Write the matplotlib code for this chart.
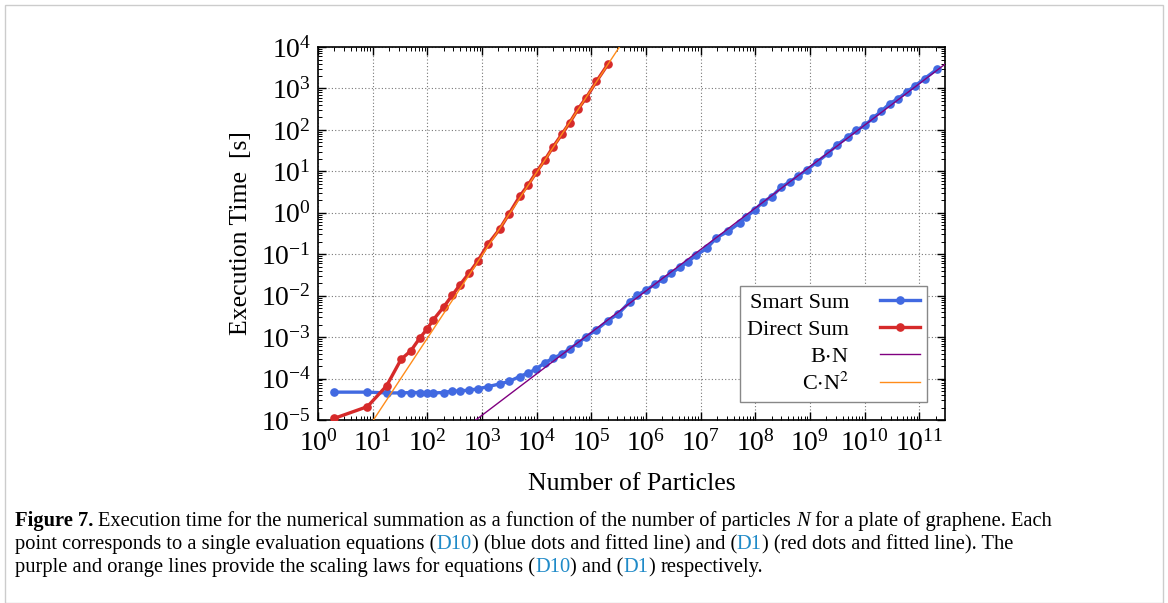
import numpy as np
import matplotlib
matplotlib.use('Agg')
import matplotlib.pyplot as plt
from matplotlib.ticker import LogLocator, NullFormatter
from matplotlib.patches import Rectangle

plt.rcParams['font.family'] = ['Liberation Serif', 'DejaVu Serif']
plt.rcParams['mathtext.fontset'] = 'stix'

# Number of particles (shared by both runs)
n_particles = [2, 8, 18, 33, 50, 72, 98, 128, 200, 288, 392, 590, 840, 1290, 2090,
               3100, 4900, 6900, 9800, 1.4e4, 2e4, 2.9e4, 4e4, 5.7e4, 8.1e4, 1.24e5,
               2e5, 3.1e5, 5e5, 6.9e5, 1.02e6, 1.45e6, 2.04e6, 2.9e6, 4.2e6, 5.9e6,
               8.3e6, 1.29e7, 1.95e7, 3.16e7, 5.2e7, 6.9e7, 9.8e7, 1.38e8, 2e8, 3e8,
               4.3e8, 6.1e8, 8.7e8, 1.32e9, 2.14e9, 3.1e9, 5e9, 7.1e9, 1.01e10,
               1.45e10, 2.04e10, 2.9e10, 4.1e10, 5.9e10, 8.3e10, 1.26e11, 2.1e11]

# Smart sum timings [s]
smart_time = [4.7e-5, 4.7e-5, 4.5e-5, 4.5e-5, 4.6e-5, 4.6e-5, 4.5e-5, 4.5e-5, 4.6e-5,
              5.0e-5, 5.0e-5, 5.3e-5, 5.6e-5, 6.4e-5, 7.4e-5, 8.5e-5, 1.12e-4, 1.35e-4,
              1.7e-4, 2.4e-4, 3.1e-4, 3.9e-4, 5.2e-4, 7.1e-4, 1.02e-3, 1.49e-3, 2.5e-3,
              3.6e-3, 7.0e-3, 1.02e-2, 1.38e-2, 1.88e-2, 2.48e-2, 3.47e-2, 4.84e-2,
              6.6e-2, 9.5e-2, 0.138, 0.25, 0.355, 0.57, 0.80, 1.16, 1.84, 2.43, 4.23,
              5.6, 7.7, 10.7, 16.4, 27, 43, 68, 98, 129, 198, 286, 433, 570, 820, 1150,
              1740, 2900]

# Direct sum timings [s] (only the first points were run)
direct_time = [1.1e-5, 2.1e-5, 6.7e-5, 2.9e-4, 4.7e-4, 9.3e-4, 1.55e-3, 2.6e-3, 5.4e-3,
               1.04e-2, 1.8e-2, 3.6e-2, 6.9e-2, 0.176, 0.40, 0.93, 2.5, 4.6, 9.4, 18.5,
               39, 79, 148, 316, 603, 1480, 3800]

# scaling law coefficients
B_coef = 1.3e-8
C_coef = 9.4e-8

N = np.array(n_particles)
N_direct = N[:len(direct_time)]

fig = plt.figure(figsize=(11.68, 6.03), dpi=100)
ax = fig.add_axes([0.2723, 0.3035, 0.809 - 0.2723, 0.922 - 0.3035])

fit_n = np.logspace(0, 11.6, 200)

ax.plot(N, smart_time, '-o', color='#4169e1', lw=2.4, ms=5.2, label='Smart Sum', zorder=3)
ax.plot(N_direct, direct_time, '-o', color='#d62a2a', lw=2.4, ms=5.2, label='Direct Sum', zorder=3)
ax.plot(fit_n, B_coef * fit_n, color='#800080', lw=1.0, label=r'B$\cdot$N', zorder=4)
ax.plot(fit_n, C_coef * fit_n**2, color='#ff8c1a', lw=1.0, label=r'C$\cdot$N$^2$', zorder=4)

ax.set_xscale('log')
ax.set_yscale('log')
ax.set_xlim(1, 10**11.47)
ax.set_ylim(1e-5, 1e4)

ax.xaxis.set_major_locator(LogLocator(base=10, numticks=30))
ax.yaxis.set_major_locator(LogLocator(base=10, numticks=30))
for axis in (ax.xaxis, ax.yaxis):
    axis.set_minor_locator(LogLocator(base=10, subs=np.arange(2, 10), numticks=200))
    axis.set_minor_formatter(NullFormatter())

ax.tick_params(which='both', direction='in', top=True, right=True)
ax.tick_params(which='major', length=6, width=1, labelsize=20, pad=5)
ax.tick_params(axis='x', which='major', pad=7)
ax.tick_params(which='minor', length=3, width=0.7)
for s in ax.spines.values():
    s.set_linewidth(1.2)

ax.grid(True, which='major', linestyle=(0, (1, 2)), color='#777777', lw=0.8)

ax.set_xlabel('Number of Particles', fontsize=18.5, labelpad=12)
ax.set_ylabel('Execution Time  [s]', fontsize=18.5, labelpad=6)

leg = ax.legend(loc='lower right', bbox_to_anchor=(0.971, 0.049), markerfirst=False,
                fontsize=16, fancybox=False, framealpha=1, edgecolor='#888888',
                handlelength=1.8, borderpad=0.3, labelspacing=0.28, handletextpad=1.4,
                borderaxespad=0)
leg.get_frame().set_linewidth(1.0)
for t in leg.get_texts():
    t.set_ha('right')

# outer frame of the figure panel
fig.patches.append(Rectangle((5 / 1168, 0), 1158 / 1168, 598 / 603,
                             transform=fig.transFigure, fill=False,
                             edgecolor='#cccccc', lw=1.0))

# caption, drawn piece by piece
cap_size = 14.8
link = '#1f8ac8'
caption = [
    [('Figure 7.', 'k', 'bold', 'normal'), (' ', None, None, None),
     ('Execution time for the numerical summation as a function of the number of particles', 'k', 'normal', 'normal'),
     (' ', None, None, None), ('N', 'k', 'normal', 'italic'), (' ', None, None, None),
     ('for a plate of graphene. Each', 'k', 'normal', 'normal')],
    [('point corresponds to a single evaluation equations (', 'k', 'normal', 'normal'),
     ('D10', link, 'normal', 'normal'),
     (') (blue dots and fitted line) and (', 'k', 'normal', 'normal'),
     ('D1', link, 'normal', 'normal'),
     (') (red dots and fitted line). The', 'k', 'normal', 'normal')],
    [('purple and orange lines provide the scaling laws for equations (', 'k', 'normal', 'normal'),
     ('D10', link, 'normal', 'normal'), (') and (', 'k', 'normal', 'normal'),
     ('D1', link, 'normal', 'normal'), (')', 'k', 'normal', 'normal'),
     (' ', None, None, None), ('respectively.', 'k', 'normal', 'normal')],
]
line_y = [526, 549, 572]

renderer = fig.canvas.get_renderer()
probe1 = fig.text(0, 0, 'x x', fontsize=cap_size)
probe2 = fig.text(0, 0, 'xx', fontsize=cap_size)
space_w = (probe1.get_window_extent(renderer).width
           - probe2.get_window_extent(renderer).width)
probe1.remove()
probe2.remove()

for segs, yp in zip(caption, line_y):
    xp = 15.0
    for txt, col, wt, st in segs:
        if col is None:
            xp += space_w
            continue
        t = fig.text(xp / 1168, 1 - yp / 603, txt, fontsize=cap_size, color=col,
                     fontweight=wt, fontstyle=st, va='baseline', ha='left')
        xp += t.get_window_extent(renderer).width

fig.savefig('out.png', dpi=100)
